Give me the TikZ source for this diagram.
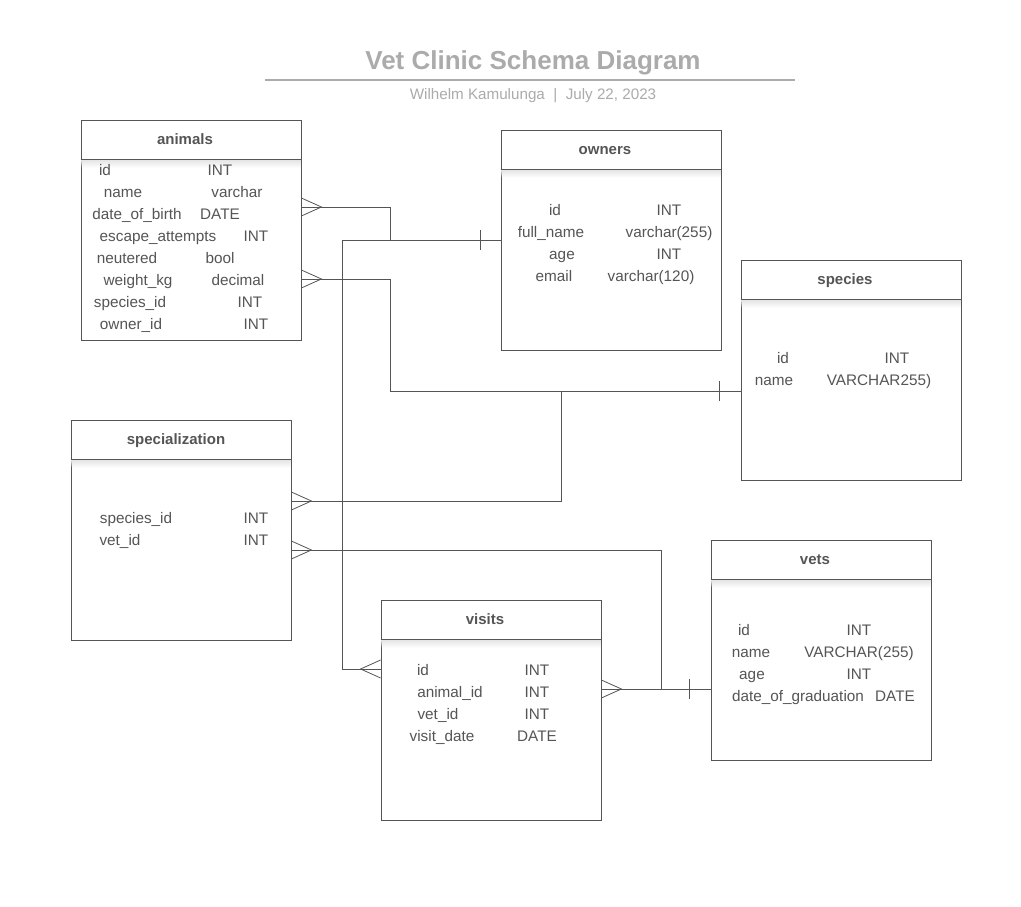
\documentclass[tikz,border=0pt]{standalone}
\usepackage{fontspec}
\setmainfont{Liberation Sans}
\usetikzlibrary{fadings,calc}
\definecolor{ln}{HTML}{555555}
\definecolor{tx}{HTML}{555555}
\definecolor{tt}{HTML}{ABABAB}
\begin{document}
\begin{tikzpicture}[x=1pt,y=-1pt,
  tbl/.style={draw=ln, line width=0.8pt, fill=white, minimum width=220pt, minimum height=220pt, inner sep=0pt},
  hdr/.style={font=\fontsize{15}{18}\selectfont\bfseries, text=tx, anchor=base, inner sep=0pt},
  fld/.style={font=\fontsize{15.3}{18}\selectfont, text=tx, anchor=base, inner sep=0pt},
  conn/.style={draw=ln, line width=0.8pt},
  crowR/.pic={\draw[conn] (0,-9) -- (20,0) -- (0,9);},
  crowL/.pic={\draw[conn] (0,-9) -- (-20,0) -- (0,9);},
  onebar/.pic={\draw[conn] (0,-10) -- (0,10);}
]
\fill[white] (0,0) rectangle (1021,907);
\useasboundingbox (0,0) rectangle (1021,907);

% title
\node[font=\fontsize{26}{30}\selectfont\bfseries, text=tt] (title) at (533,63) {Vet Clinic Schema Diagram};
\coordinate (ruleL) at (265,80);
\coordinate (ruleR) at (795,80);
\draw[tt, line width=1.2pt] (ruleL) -- (ruleR);
\node[font=\fontsize{15.2}{18}\selectfont, text=tt] (subtitle) at (533,96) {Wilhelm Kamulunga~~|~~July 22, 2023};

% tables
\node[tbl] (animals) at (191,230) {};
\node[tbl] (owners) at (611,240) {};
\node[tbl] (species) at (851,370) {};
\node[tbl] (specialization) at (181,530) {};
\node[tbl] (visits) at (491,710) {};
\node[tbl] (vets) at (821,650) {};
\foreach \nm in {animals, owners, species, specialization, visits, vets}{
  \fill[black!10, path fading=south] ($(\nm.north west)+(0.5,40.5)$) rectangle ($(\nm.north east)+(-0.5,48)$);
  \draw[conn] ($(\nm.north west)+(0,40)$) -- ($(\nm.north east)+(0,40)$);
}

% headers
\node[hdr] (hanimals) at (185,144) {animals};
\node[hdr] (howners) at (605,154) {owners};
\node[hdr] (hspecies) at (845,284) {species};
\node[hdr] (hspecialization) at (176,444) {specialization};
\node[hdr] (hvisits) at (485,624) {visits};
\node[hdr] (hvets) at (815,564) {vets};

% fields
\foreach \k/\x/\y/\t in {
  a1/105/175/id, a2/123/197/name, a3/137/219/date\_of\_birth, a4/158/241/escape\_attempts,
  a5/127/263/neutered, a6/138/285/weight\_kg, a7/130/307/species\_id, a8/131/329/owner\_id,
  at1/220/175/INT, at2/237/197/varchar, at3/220/219/DATE, at4/256/241/INT,
  at5/220/263/bool, at6/238/285/decimal, at7/250/307/INT, at8/256/329/INT,
  o1/555/215/id, o2/551/237/full\_name, o3/562/259/age, o4/554/281/email,
  ot1/669/215/INT, ot2/669/237/varchar(255), ot3/669/259/INT, ot4/651/281/varchar(120),
  s1/783/363/id, s2/774/385/name, st1/897/363/INT, st2/879/385/VARCHAR255),
  p1/136/523/species\_id, p2/120/545/vet\_id, pt1/256/523/INT, pt2/256/545/INT,
  v1/423/675/id, v2/450/697/animal\_id, v3/438/719/vet\_id, v4/442/741/visit\_date,
  vt1/537/675/INT, vt2/537/697/INT, vt3/537/719/INT, vt4/537/741/DATE,
  e1/744/635/id, e2/751/657/name, e3/752/679/age, e4/798/701/date\_of\_graduation,
  et1/859/635/INT, et2/859/657/VARCHAR(255), et3/859/679/INT, et4/895/701/DATE}{
  \node[fld] (f\k) at (\x,\y) {\t};
}

% connectors
% animals -> owners
\draw[conn] (animals.east |- 0,207) -- (390,207) -- (390,240) -- (owners.west |- 0,240);
\pic at (animals.east |- 0,207) {crowR};
\pic at ($(owners.west |- 0,240)+(-20,0)$) {onebar};
% visits -> animals/owners line
\draw[conn] (visits.west |- 0,669) -- (342,669) -- (342,240) -- (390,240);
\pic at (visits.west |- 0,669) {crowL};
% animals -> species
\draw[conn] (animals.east |- 0,279) -- (390,279) -- (390,391) -- (species.west |- 0,391);
\pic at (animals.east |- 0,279) {crowR};
\pic at ($(species.west |- 0,391)+(-21,0)$) {onebar};
% specialization -> species line
\draw[conn] (specialization.east |- 0,501) -- (561,501) -- (561,391);
\pic at (specialization.east |- 0,501) {crowR};
% specialization -> vets line
\draw[conn] (specialization.east |- 0,550) -- (661,550) -- (661,689);
\pic at (specialization.east |- 0,550) {crowR};
% visits -> vets
\draw[conn] (visits.east |- 0,689) -- (vets.west |- 0,689);
\pic at (visits.east |- 0,689) {crowR};
\pic at ($(vets.west |- 0,689)+(-21,0)$) {onebar};
\end{tikzpicture}
\end{document}
